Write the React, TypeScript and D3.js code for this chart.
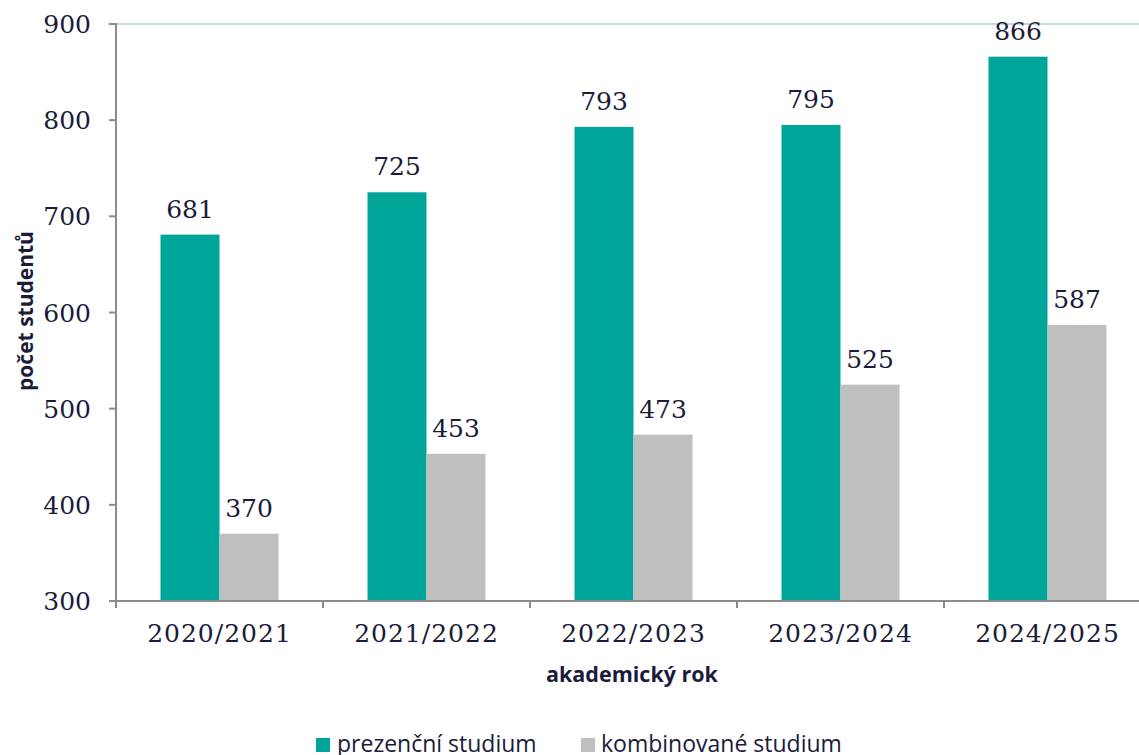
import React from "react";
import * as d3 from "d3";

const categories = ["2020/2021", "2021/2022", "2022/2023", "2023/2024", "2024/2025"];
const prezencni = [681, 725, 793, 795, 866];
const kombinovane = [370, 453, 473, 525, 587];
const yTicks = [300, 400, 500, 600, 700, 800, 900];
const seriesNames = ["prezenční studium", "kombinované studium"];
const colors = ["#00a599", "#bfbfbf"];

const W = 1139;
const H = 755;
const left = 116;
const top = 24;
const bottom = 601;
const band = 207;

export default function App() {
  const x = d3.scaleBand<string>().domain(categories).range([left, left + band * categories.length]).paddingInner(0).paddingOuter(0);
  const y = d3.scaleLinear().domain([300, 900]).range([bottom, top]);
  const barW = 59;
  const serif = "'DejaVu Serif', serif";
  const sans = "'Open Sans', 'Noto Sans', sans-serif";
  const textColor = "#1b1b3a";
  const series = [prezencni, kombinovane];
  return (
    <svg width={W} height={H} style={{ position: "absolute", left: 0, top: 0 }}>
      <rect width={W} height={H} fill="#fff" />
      <line x1={left} x2={W} y1={y(900)} y2={y(900)} stroke="#b4c7e7" strokeWidth={1.5} />
      {categories.map((c, i) => {
        const cx = (x(c) as number) + band / 2;
        return series.map((s, k) => {
          const bx = cx - barW + k * barW;
          return (
            <g key={c + k}>
              <rect x={bx} y={y(s[i])} width={barW} height={bottom - y(s[i])} fill={colors[k]} />
              <text x={bx + barW / 2} y={y(s[i]) - 17} textAnchor="middle" fontFamily={serif} fontSize={25} fill={textColor}>
                {s[i]}
              </text>
            </g>
          );
        });
      })}
      <line x1={left} x2={left} y1={top - 1} y2={bottom + 7} stroke="#8c8c8c" strokeWidth={2} />
      <line x1={left - 7} x2={W} y1={bottom} y2={bottom} stroke="#8c8c8c" strokeWidth={2} />
      {yTicks.map((t) => (
        <g key={t}>
          <line x1={left - 7} x2={left} y1={y(t)} y2={y(t)} stroke="#8c8c8c" strokeWidth={2} />
          <text x={91} y={y(t) + 9} textAnchor="end" fontFamily={serif} fontSize={25} fill={textColor}>
            {t}
          </text>
        </g>
      ))}
      {categories.map((c, i) => (
        <g key={c}>
          <line x1={(x(c) as number) + band} x2={(x(c) as number) + band} y1={bottom} y2={bottom + 7} stroke="#8c8c8c" strokeWidth={2} />
          <text x={(x(c) as number) + band / 2} y={642} textAnchor="middle" fontFamily={serif} fontSize={25} letterSpacing={1} fill={textColor}>
            {c}
          </text>
        </g>
      ))}
      <text x={632} y={682} textAnchor="middle" fontFamily={sans} fontWeight="bold" fontSize={21.5} fill={textColor}>
        akademický rok
      </text>
      <text transform={`translate(33,311) rotate(-90)`} textAnchor="middle" fontFamily={sans} fontWeight="bold" fontSize={21} fill={textColor}>
        počet studentů
      </text>
      <rect x={316} y={738} width={14} height={14} fill={colors[0]} />
      <text x={337} y={752} fontFamily={sans} fontSize={23} fill={textColor}>{seriesNames[0]}</text>
      <rect x={581} y={738} width={14} height={14} fill={colors[1]} />
      <text x={601} y={752} fontFamily={sans} fontSize={23} fill={textColor}>{seriesNames[1]}</text>
    </svg>
  );
}
